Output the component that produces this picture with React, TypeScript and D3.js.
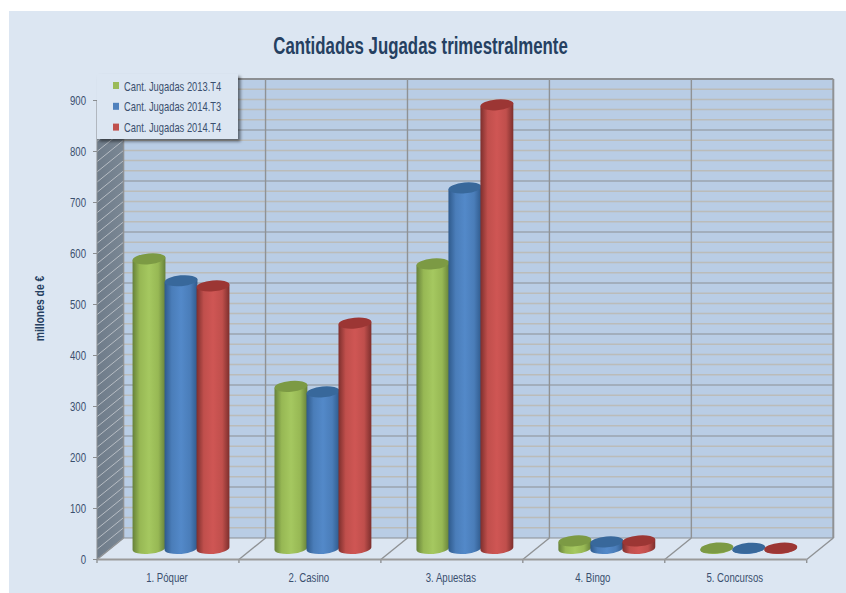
import React from "react";
import * as d3 from "d3";

const categories = ["1. Póquer", "2. Casino", "3. Apuestas", "4. Bingo", "5. Concursos"];
const seriesNames = ["Cant. Jugadas 2013.T4", "Cant. Jugadas 2014.T3", "Cant. Jugadas 2014.T4"];
const values2013T4 = [568, 318, 558, 15, 1];
const values2014T3 = [525, 307, 707, 13, 0.5];
const values2014T4 = [515, 442, 870, 15, 0.7];
const yTicks = [0, 100, 200, 300, 400, 500, 600, 700, 800, 900];
const minorTicks = d3.range(0, 910, 20);
const title = "Cantidades Jugadas trimestralmente";
const yTitle = "millones de €";

const palettes = [
  { id: "g", edge: "#66813a", mid: "#a5c860", main: "#97b854", top: "#7c9a44", key: "#9bbb59" },
  { id: "b", edge: "#2f5a8c", mid: "#5389c9", main: "#4a7db9", top: "#38689b", key: "#4f81bd" },
  { id: "r", edge: "#7d2f2d", mid: "#cf5654", main: "#c04f4c", top: "#9c3634", key: "#c0504d" },
];
const seriesValues = [values2013T4, values2014T3, values2014T4];

const W = 846, H = 593;
const frontLeft = 97, frontRight = 806.7, frontBase = 559.5, frontTop = 100.5;
const dx = 26.6, dy = -21.5;
const barStep = 32, barW = 33, ry = 5.4, tilt = -5;
const barBase = 548.5;

const x = d3.scaleBand<number>().domain(d3.range(categories.length)).range([frontLeft, frontRight]);
const y = d3.scaleLinear().domain([0, 900]).range([frontBase, frontTop]);
const barOffset = 36;

const sans = "'Liberation Sans',Arial,sans-serif";
const txt = "#3a4f6e";

function Narrow({ x: tx, y: ty, sx = 0.74, size = 12.5, anchor = "start", bold = false, fill = txt, rotate = 0, children }: any) {
  return (
    <text
      transform={`translate(${tx},${ty}) rotate(${rotate}) scale(${sx},1)`}
      textAnchor={anchor}
      fontFamily={sans}
      fontSize={size}
      fontWeight={bold ? "bold" : "normal"}
      fill={fill}
    >
      {children}
    </text>
  );
}

function cyl(cx: number, top: number, bottom: number) {
  const r = barW / 2;
  const a = (tilt * Math.PI) / 180;
  const ex = r * Math.cos(a), ey = r * Math.sin(a);
  return `M${cx - ex} ${top - ey}L${cx - ex} ${bottom - ey}A${r} ${ry} ${tilt} 0 0 ${cx + ex} ${bottom + ey}L${cx + ex} ${top + ey}Z`;
}

export default function App() {
  const bandEdges = d3.range(categories.length + 1).map((i) => frontLeft + i * x.bandwidth());
  const backY = (v: number) => y(v) + dy;
  return (
    <svg width={W} height={H} viewBox={`0 0 ${W} ${H}`} style={{ position: "absolute", left: 0, top: 0 }}>
      <defs>
        {palettes.map((p) => (
          <linearGradient key={p.id} id={`grad-${p.id}`} x1="0" x2="1" y1="0" y2="0">
            <stop offset="0" stopColor={p.edge} />
            <stop offset="0.22" stopColor={p.main} />
            <stop offset="0.5" stopColor={p.mid} />
            <stop offset="0.78" stopColor={p.main} />
            <stop offset="1" stopColor={p.edge} />
          </linearGradient>
        ))}
        <filter id="legendShadow" x="-10%" y="-10%" width="125%" height="130%">
          <feDropShadow dx="2.5" dy="2.5" stdDeviation="1.5" floodColor="#000" floodOpacity="0.5" />
        </filter>
        <linearGradient id="wallGrad" x1="0" x2="1" y1="0" y2="0">
          <stop offset="0" stopColor="#6f7c8a" />
          <stop offset="1" stopColor="#7a8794" />
        </linearGradient>
      </defs>
      <rect x={9} y={11} width={W - 9} height={H - 11} fill="#dce6f2" />

      <rect x={frontLeft + dx} y={backY(900)} width={frontRight - frontLeft} height={y(0) - y(900)} fill="#b9cde5" />
      <polygon
        points={`${frontLeft},${y(0)} ${frontLeft + dx},${backY(0)} ${frontLeft + dx},${backY(900)} ${frontLeft},${y(900)}`}
        fill="url(#wallGrad)"
      />
      {minorTicks.filter((v) => v % 100 !== 0).map((v) => (
        <g key={v}>
          <line x1={frontLeft + dx} x2={frontRight + dx} y1={backY(v)} y2={backY(v)} stroke="#bbbcb9" strokeWidth={1.5} />
          <line x1={frontLeft} y1={y(v)} x2={frontLeft + dx} y2={backY(v)} stroke="#b7bdc4" strokeWidth={1} />
        </g>
      ))}
      {yTicks.map((v) => (
        <g key={v}>
          <line x1={frontLeft + dx} x2={frontRight + dx} y1={backY(v)} y2={backY(v)} stroke="#8c8f93" strokeWidth={v === 900 ? 1.8 : 1.2} />
          <line x1={frontLeft} y1={y(v)} x2={frontLeft + dx} y2={backY(v)} stroke="#b7bdc4" strokeWidth={1} />
        </g>
      ))}
      {bandEdges.map((e, i) => (
        <g key={e} stroke="#8f9295" strokeWidth={1.4}>
          <line x1={e + dx} x2={e + dx} y1={backY(900)} y2={backY(0)} strokeWidth={i === 5 ? 2 : 1.4} />
          <line x1={e} x2={e + dx} y1={y(0)} y2={backY(0)} />
          <line x1={e} x2={e} y1={y(0)} y2={y(0) + 3.5} />
        </g>
      ))}
      <line x1={frontLeft} x2={frontRight} y1={y(0)} y2={y(0)} stroke="#9a9a9a" strokeWidth={2} />
      <line x1={frontLeft} x2={frontLeft} y1={y(900)} y2={y(0)} stroke="#8a8d90" strokeWidth={1} />
      {yTicks.map((v) => (
        <g key={`t${v}`}>
          <line x1={frontLeft - 4} x2={frontLeft} y1={y(v)} y2={y(v)} stroke="#8a8d90" />
          <Narrow x={86} y={y(v) + 4.4} anchor="end" size={13}>{v}</Narrow>
        </g>
      ))}

      {categories.map((c, i) =>
        palettes.map((p, s) => {
          const cx = (x(i) as number) + barOffset + barStep * s + barStep / 2;
          const h = y(0) - y(seriesValues[s][i]);
          const top = barBase - h;
          return (
            <g key={`${c}-${p.id}`}>
              <path d={cyl(cx, top, barBase)} fill={`url(#grad-${p.id})`} />
              <ellipse cx={cx} cy={top} rx={barW / 2} ry={ry} fill={p.top} transform={`rotate(${tilt} ${cx} ${top})`} />
            </g>
          );
        })
      )}

      {categories.map((c, i) => (
        <Narrow key={c} x={(x(i) as number) + x.bandwidth() / 2 - 1} y={581.5} anchor="middle" size={13}>{c}</Narrow>
      ))}

      <Narrow x={420.5} y={54} anchor="middle" size={23} sx={0.732} bold fill="#254061">{title}</Narrow>
      <Narrow x={44} y={308.5} rotate={-90} anchor="middle" size={12.5} sx={0.83} bold fill="#254061">{yTitle}</Narrow>

      <rect x={97} y={74} width={141} height={65} fill="#dce6f2" filter="url(#legendShadow)" />
      {seriesNames.map((n, i) => (
        <g key={n}>
          <rect x={113} y={82 + i * 20.8} width={6} height={7} fill={palettes[i].key} />
          <Narrow x={124} y={90.5 + i * 20.8} size={13} sx={0.72}>{n}</Narrow>
        </g>
      ))}
    </svg>
  );
}
